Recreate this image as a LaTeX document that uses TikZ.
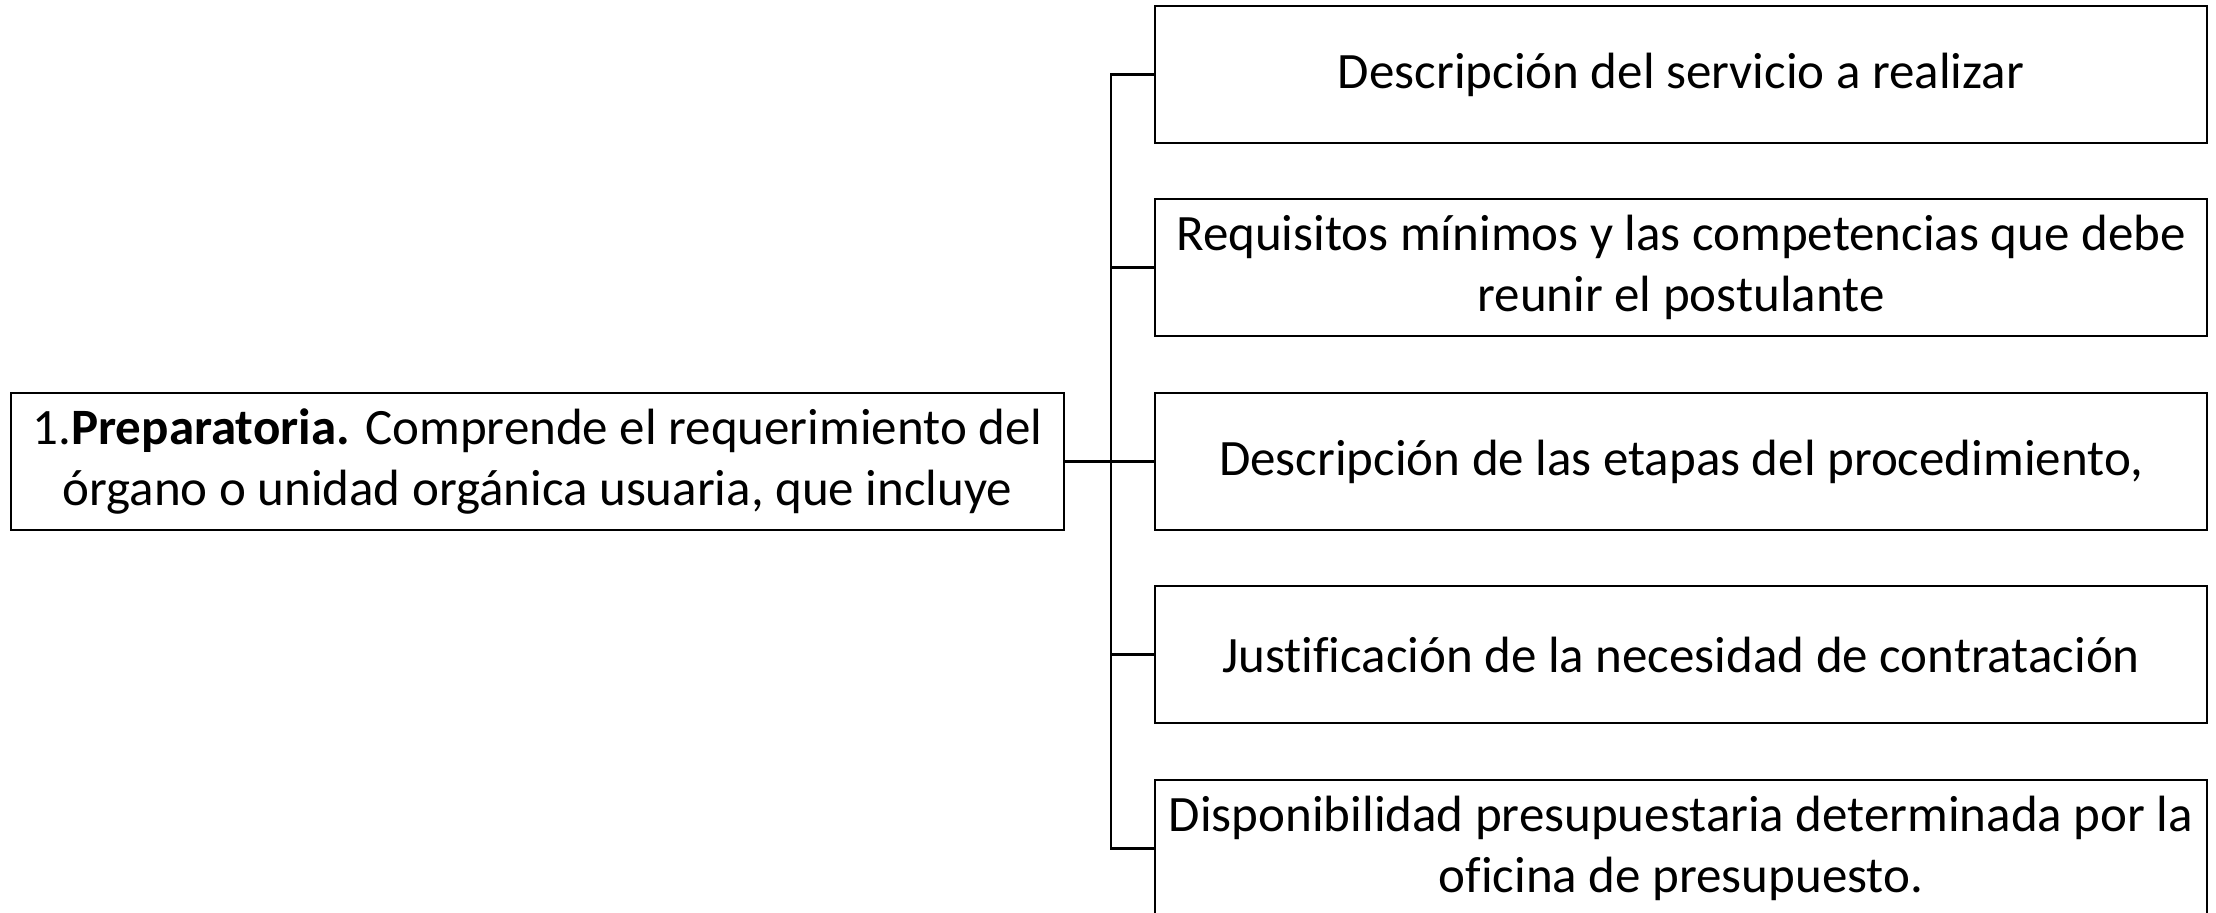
\documentclass[tikz,border=0pt]{standalone}
\usepackage{fontspec}
\setmainfont[Ligatures=CommonOff]{Carlito}
\usetikzlibrary{positioning}

\begin{document}
\begin{tikzpicture}[x=0.01cm, y=-0.01cm, line width=0.6pt,
                    nodes={draw, align=center, inner sep=0pt, minimum height=1.37cm,
                           font=\fontsize{14.5}{17.2}\selectfont}]
                        \useasboundingbox (0,0) rectangle (2216,913);
                        \clip (0,0) rectangle (2216,913);
                        \node[minimum width=10.53cm] (prep) at (537.5,461.5)
                            {1.\textbf{Preparatoria.} Comprende el requerimiento del\\
                             órgano o unidad orgánica usuaria, que incluye};
                        \node[minimum width=10.52cm] (desc) at (1681,74.5) {Descripción del servicio a realizar};
                        \node[minimum width=10.52cm] (req) at (1681,267.5)
                            {Requisitos mínimos y las competencias que debe\\ reunir el postulante};
                        \node[minimum width=10.52cm] (etapas) at (1681,461.5) {Descripción de las etapas del procedimiento,};
                        \node[minimum width=10.52cm] (just) at (1681,654.5) {Justificación de la necesidad de contratación};
                        \node[minimum width=10.52cm] (disp) at (1681,848.5)
                            {Disponibilidad presupuestaria determinada por la\\ oficina de presupuesto.};
                        \coordinate (tronco) at (1111,461.5);
                        \draw (prep.east) -- (tronco);
                        \draw (desc.west) -| (tronco) |- (disp.west);
                        \foreach \n in {req, etapas, just}
                            \draw (\n.west) -- (\n.west -| tronco);
                    \end{tikzpicture}
\end{document}
